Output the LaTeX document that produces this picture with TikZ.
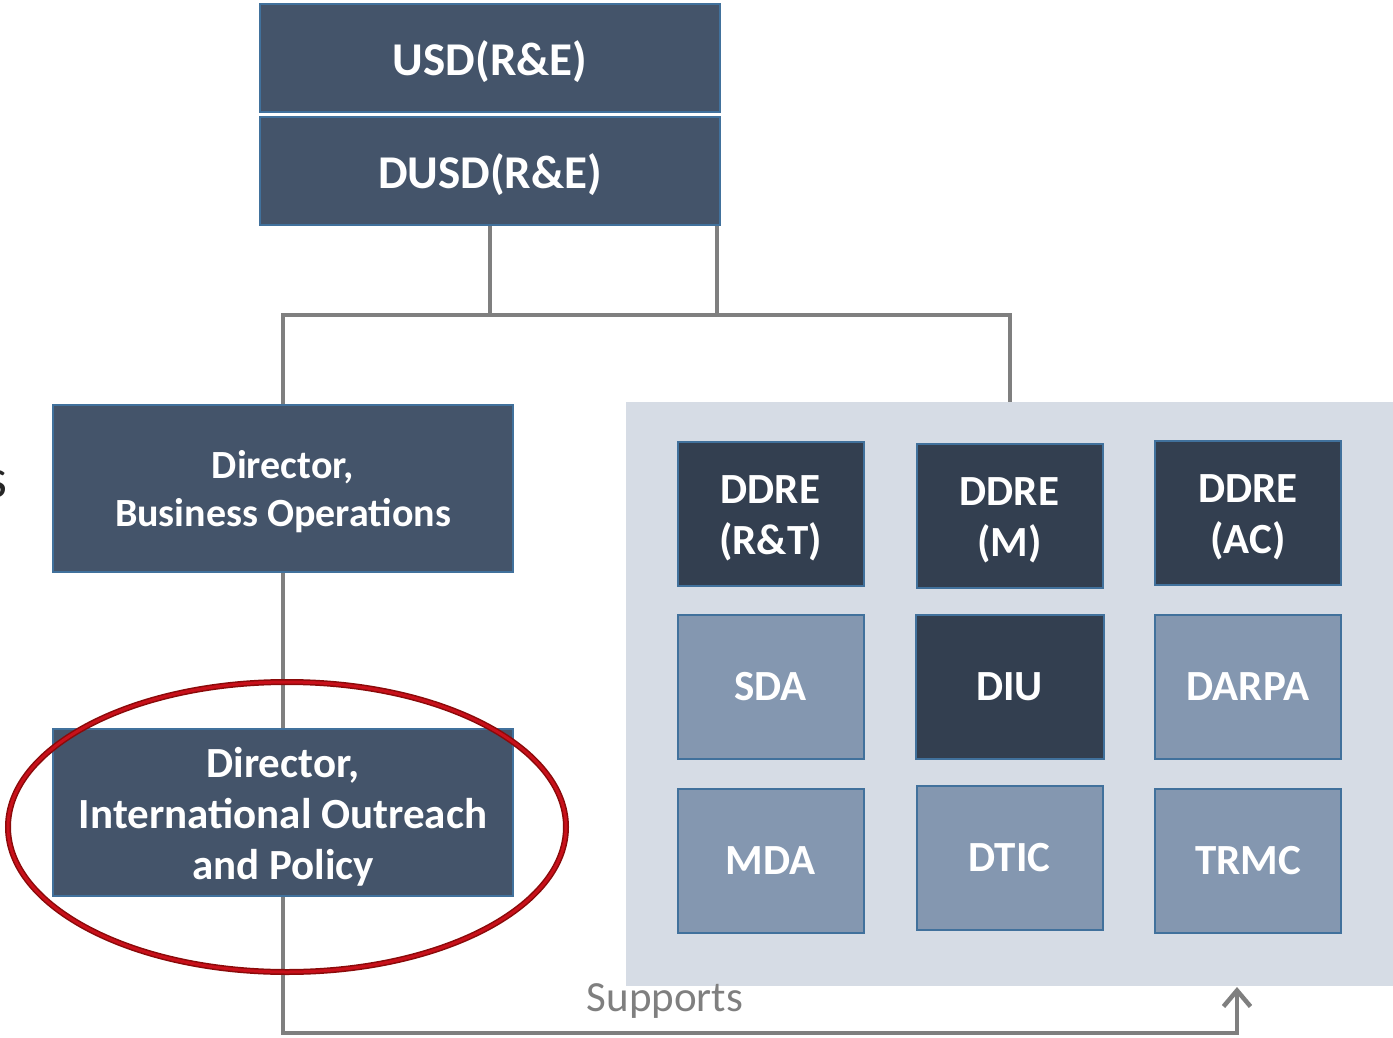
\documentclass[tikz,border=0pt]{standalone}
\usepackage{fontspec}
\setmainfont{Carlito}
\usetikzlibrary{arrows.meta}
\definecolor{navy}{HTML}{44546A}
\definecolor{darknavy}{HTML}{333F50}
\definecolor{steel}{HTML}{8497B0}
\definecolor{edge}{HTML}{41719C}
\definecolor{pale}{HTML}{D6DCE5}
\definecolor{wire}{HTML}{7F7F7F}
\definecolor{ringred}{HTML}{C8101A}
\definecolor{ringdark}{HTML}{8A0A0A}
\newcommand{\lift}{\rule{0pt}{0.88em}}
\begin{document}
\begin{tikzpicture}[x=1pt,y=-1pt,>={Straight Barb[length=16pt,width=27pt]},
  unit/.style={draw=edge, line width=2pt, text=white, inner sep=0pt, align=center},
  head/.style={unit, fill=navy, minimum width=460pt, minimum height=108pt,
    font=\fontsize{47}{56}\selectfont\bfseries},
  office/.style={unit, fill=navy, minimum width=460pt, minimum height=167pt},
  dark/.style={unit, fill=darknavy, minimum width=186pt, minimum height=144pt,
    font=\fontsize{43}{51}\selectfont\bfseries},
  light/.style={dark, fill=steel},
  link/.style={draw=wire, line width=4.5pt},
  ring/.style={line width=#1}]
\useasboundingbox (0,0) rectangle (1393,1038);

\node[fill=pale, minimum width=768pt, minimum height=584pt, inner sep=0pt] (panel) at (1010,694) {};

\node[head] (usd) at (490,58) {\lift USD(R\&E)};
\node[head] (dusd) at (490,171) {\lift DUSD(R\&E)};

\node[office, font=\fontsize{40}{48}\selectfont\bfseries] (bo) at (283,488.5) {\lift Director,\\Business Operations};
\node[office, font=\fontsize{43}{51}\selectfont\bfseries] (iop) at (283,812.5) {\lift Director,\\International Outreach\\and Policy};

\node[anchor=base east, inner sep=0pt, text=black!85, font=\fontsize{56}{60}\selectfont] (cut) at (8,497) {s};

% components
\node[dark] (rt) at (770.5,513.5) {\lift DDRE\\(R\&T)};
\node[dark] (m) at (1009.5,515.5) {\lift DDRE\\(M)};
\node[dark] (ac) at (1248,512.5) {\lift DDRE\\(AC)};
\node[light] (sda) at (770.5,686.5) {SDA};
\node[dark, minimum width=188pt] (diu) at (1009.5,686.5) {DIU};
\node[light] (darpa) at (1248,686.5) {DARPA};
\node[light] (mda) at (770.5,860.5) {MDA};
\node[light] (dtic) at (1009.5,857.5) {DTIC};
\node[light] (trmc) at (1248,860.5) {TRMC};

\coordinate (jn) at (491,315);
\coordinate (jr) at (717,315);
\draw[link] (dusd.south) -- (dusd.south |- jn);
\draw[link] (jr |- dusd.south) -- (jr);
\draw[link] (bo.north) -- (bo.north |- jn) -| (panel.north);
\draw[link] (bo.south) -- (iop.north);

\coordinate (low) at (0,1033);
\coordinate (tgt) at (1237,987);
\draw[link,->] (iop.south) -- (iop.south |- low) -| (tgt);
\node[text=wire, font=\fontsize{43}{48}\selectfont] (sup) at (665,1001) {Supports};

\draw[ringdark, ring=6pt] (287,827) ellipse [x radius=279, y radius=145];
\draw[ringred, ring=3pt] (287,827) ellipse [x radius=279, y radius=145];
\end{tikzpicture}
\end{document}
